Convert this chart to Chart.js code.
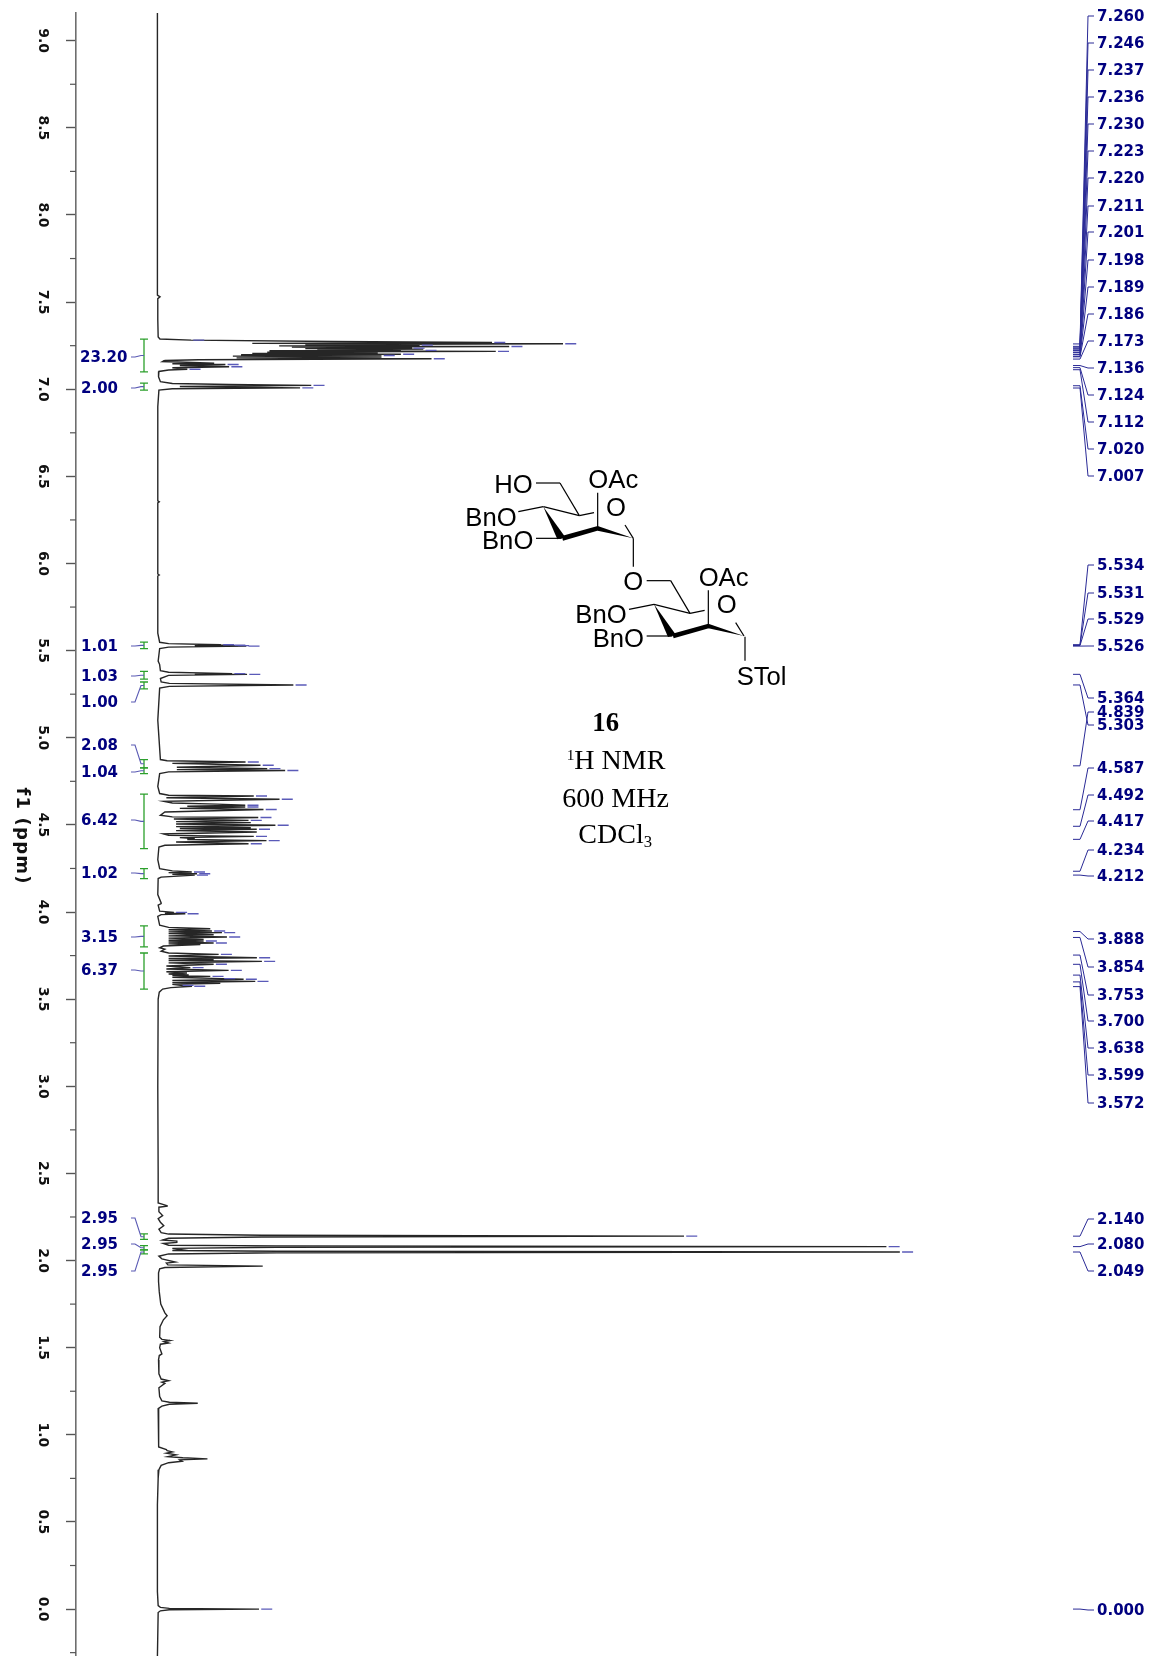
<!DOCTYPE html>
<html>
<head>
<meta charset="utf-8">
<title>1H NMR 16</title>
<script src="https://cdn.jsdelivr.net/npm/chart.js@4"></script>
<style>
  html, body { margin: 0; padding: 0; background: #fff; }
  #wrap { position: relative; width: 1155px; height: 1656px; overflow: hidden; }
  #nmr { position: absolute; left: 0; top: 0; filter: blur(0.35px); }
  #structure { position: absolute; left: 450px; top: 450px; }
  #structure text { font-family: "Liberation Sans", sans-serif; font-size: 77px; fill: #000; }
  #structure text.cap { font-family: "Liberation Serif", serif; font-size: 84px; }
  #structure line { stroke: #000; stroke-width: 3.6; }
</style>
</head>
<body>
<div id="wrap">
  <canvas id="nmr" width="1155" height="1669"></canvas>
  <svg id="structure" width="360" height="400" viewBox="0 0 1080 1200">
    <g id="ring1">
      <line x1="258" y1="99" x2="330" y2="99"/><line x1="330" y1="99" x2="388" y2="197"/>
      <line x1="205" y1="185" x2="280" y2="170"/><line x1="280" y1="170" x2="388" y2="197"/>
      <line x1="388" y1="197" x2="432" y2="188"/><line x1="443" y1="128" x2="443" y2="235"/>
      <line x1="525" y1="225" x2="550" y2="265"/><line x1="258" y1="265" x2="335" y2="265"/>
      <polygon points="280,170 322,268 346,262"/>
      <polygon points="335,258 443,228 447,241 339,272"/>
      <polygon points="443,228 550,265 443,242"/>
    </g>
    <line x1="550" y1="265" x2="550" y2="350"/>
    <use href="#ring1" x="332" y="293"/>
    <line x1="885" y1="560" x2="885" y2="632"/>
    <text x="133" y="128">HO</text>
    <text x="415" y="115">OAc</text>
    <text x="468" y="199">O</text>
    <text x="46" y="228">BnO</text>
    <text x="96" y="297">BnO</text>
    <text x="520" y="420">O</text>
    <text x="746" y="407">OAc</text>
    <text x="800" y="490">O</text>
    <text x="376" y="519">BnO</text>
    <text x="428" y="590">BnO</text>
    <text x="860" y="705">STol</text>
    <text class="cap" x="427" y="843" font-weight="bold" style="font-size:80px">16</text>
    <text class="cap" x="350" y="957"><tspan font-size="46" dy="-28">1</tspan><tspan dy="28">H NMR</tspan></text>
    <text class="cap" x="337" y="1070">600 MHz</text>
    <text class="cap" x="385" y="1180">CDCl<tspan font-size="50" dy="12">3</tspan></text>
  </svg>
</div>
<script>
// spectrum trace: ppm and relative intensity per region
const downfieldPpm = [9.16, 7.6, 7.54, 7.53, 7.52, 7.4, 7.3];
const downfieldInt = [0, 0, 0, 0.35, 0.05, 0.05, 0.1];

const aromaticPpm = [7.288, 7.282, 7.274, 7.268, 7.263, 7.261, 7.257, 7.253, 7.249, 7.245, 7.242, 7.238, 7.234, 7.230, 7.226, 7.223, 7.221, 7.217, 7.213, 7.209, 7.205, 7.201, 7.198, 7.194, 7.190, 7.184, 7.180, 7.175, 7.169, 7.165, 7.159, 7.150, 7.146, 7.142, 7.136, 7.129, 7.123, 7.115, 7.110, 7.102, 7.071, 7.043, 7.033, 7.027, 7.022, 7.016, 7.008, 7.003, 6.995];
const aromaticInt = [0.34, 4.5, 23.4, 44.8, 12.7, 54.3, 19.8, 35.1, 16.3, 47.1, 18, 34.1, 19.8, 35.6, 21.4, 32.6, 15, 45.3, 14.7, 29.5, 12.7, 32.6, 11.2, 30, 10.1, 30, 10.6, 36.7, 5.5, 1, 0.7, 7.6, 2, 9.1, 3, 9.6, 2, 4, 1.5, 0.2, 0.15, 0.4, 2, 9.6, 20.6, 3, 19.1, 2, 0.2];

const quietPpm = [6.9, 6.36, 6.354, 6.348, 5.94, 5.934, 5.928, 5.6];
const quietInt = [0.05, 0.05, 0.25, 0.05, 0.05, 0.25, 0.05, 0.05];

const anomericPpm = [5.548, 5.54, 5.534, 5.532, 5.531, 5.530, 5.529, 5.5275, 5.526, 5.52, 5.512, 5.44, 5.42, 5.385, 5.376, 5.368, 5.366, 5.364, 5.358, 5.34, 5.32, 5.312, 5.303, 5.295, 5.285, 5.1, 4.875, 4.868, 4.861, 4.853, 4.842, 4.831, 4.823, 4.817, 4.812, 4.804, 4.794, 4.72];
const anomericInt = [0.3, 1.5, 8.5, 5, 10, 5, 10.5, 5, 11.9, 1.5, 0.3, 0.1, 0.3, 0.4, 1.5, 10, 5, 12, 1.5, 0.4, 0.5, 1.6, 18.2, 1.6, 0.3, 0.05, 0.4, 1.3, 11.8, 2, 13.8, 2.6, 14.7, 2.6, 17.1, 1.5, 0.3, 0.05];

const benzylPpm = [4.68, 4.670, 4.666, 4.656, 4.647, 4.635, 4.626, 4.619, 4.613, 4.607, 4.603, 4.595, 4.588, 4.574, 4.555, 4.546, 4.542, 4.534, 4.526, 4.519, 4.513, 4.505, 4.498, 4.490, 4.484, 4.479, 4.475, 4.467, 4.459, 4.448, 4.440, 4.434, 4.427, 4.421, 4.416, 4.410, 4.402, 4.392, 4.383, 4.373, 4.3, 4.249, 4.236, 4.230, 4.226, 4.220, 4.216, 4.212, 4.200, 4.192];
const benzylInt = [0.3, 1.5, 12.9, 1.2, 16.35, 0.9, 2, 8, 11.76, 4, 11.76, 3, 14.2, 1, 0.4, 2, 13.5, 2.2, 12.2, 2.5, 12.5, 2.5, 15.8, 2.5, 12.5, 3, 13.3, 2.5, 13.3, 0.8, 1.5, 12.9, 3, 5, 4, 14.6, 2.5, 12.2, 1, 0.2, 0.05, 0.3, 2, 4.6, 1.5, 5.3, 2, 5, 0.5, 0.1];

const sugarPpm = [4.1, 4.052, 4.048, 4.04, 4.005, 3.998, 3.993, 3.990, 3.985, 3.975, 3.925, 3.912, 3.904, 3.898, 3.891, 3.886, 3.882, 3.876, 3.870, 3.863, 3.857, 3.85, 3.843, 3.838, 3.834, 3.828, 3.822, 3.817, 3.813, 3.805, 3.795, 3.787, 3.775, 3.765, 3.757, 3.748, 3.738, 3.733, 3.727, 3.722, 3.717, 3.708, 3.700, 3.690, 3.681, 3.673, 3.665, 3.657, 3.650, 3.644, 3.639, 3.635, 3.631, 3.625, 3.618, 3.614, 3.608, 3.602, 3.596, 3.591, 3.585, 3.579, 3.574, 3.566, 3.558, 3.54, 3.5];
const sugarInt = [0.05, 0.5, 0.5, 0.1, 0.3, 2.2, 1, 3.74, 0.5, 0.05, 0.3, 1.5, 7.08, 1.5, 7.3, 1.5, 8.64, 1.5, 7.53, 1.5, 9.31, 1.5, 6.19, 1.5, 6.19, 1.5, 7.53, 1.5, 5.75, 0.8, 0.3, 1, 0.5, 1.5, 8.2, 1.5, 13.32, 1.5, 7.53, 1.5, 13.99, 1.5, 7.53, 1.2, 4.41, 1.2, 9.53, 1.2, 3.96, 1.5, 4.19, 2, 7.08, 2, 8.64, 11.54, 2, 13.1, 2, 8.42, 2, 3.07, 4.63, 1.8, 0.7, 0.25, 0.1];

const acetylPpm = [3.0, 2.5, 2.33, 2.315, 2.312, 2.306, 2.28, 2.258, 2.24, 2.22, 2.2, 2.18, 2.16, 2.152, 2.145, 2.140, 2.135, 2.128, 2.118, 2.112, 2.108, 2.104, 2.098, 2.088, 2.084, 2.080, 2.076, 2.070, 2.062, 2.058, 2.053, 2.049, 2.045, 2.038, 2.025, 2.01, 1.991, 1.985, 1.975, 1.968, 1.960, 1.952, 1.93];
const acetylInt = [0.05, 0.1, 0.1, 1.3, 1.3, 0.2, 0.2, 0.7, 0.1, 0.4, 0.85, 0.2, 0.5, 1.5, 14, 70.5, 14, 1.5, 0.7, 2.6, 2.6, 2.6, 0.8, 1.5, 16, 97.6, 16, 2, 3.3, 2, 16, 99.4, 16, 1.5, 0.2, 0.6, 2.4, 1.2, 1.4, 14.1, 1, 0.3, 0.15];

const upfieldPpm = [1.88, 1.82, 1.75, 1.70, 1.683, 1.66, 1.62, 1.56, 1.548, 1.541, 1.535, 1.527, 1.52, 1.50, 1.464, 1.455, 1.43, 1.35, 1.32, 1.31, 1.302, 1.295, 1.27, 1.22, 1.195, 1.187, 1.181, 1.175, 1.165, 1.15, 1.1, 1.0, 0.93, 0.915, 0.909, 0.902, 0.895, 0.885, 0.875, 0.868, 0.862, 0.856, 0.848, 0.84, 0.825, 0.80, 0.75, 0.6, 0.1];
const upfieldInt = [0.15, 0.25, 0.45, 1, 1.3, 0.8, 0.35, 0.3, 0.6, 1.7, 0.9, 1.5, 0.4, 0.3, 0.6, 0.25, 0.15, 0.2, 0.5, 1.5, 0.6, 1, 0.2, 0.3, 0.6, 1.6, 5.4, 1.6, 0.6, 0.1, 0.2, 0.1, 0.2, 1.2, 1.3, 2, 1.2, 2.5, 1.4, 3.4, 6.7, 3, 3.3, 1.5, 0.5, 0.2, 0.1, 0, 0];

const tmsPpm = [0.02, 0.01, 0.004, 0.0, -0.004, -0.01, -0.02, -0.2727];
const tmsInt = [0.1, 0.4, 1.6, 13.6, 1.6, 0.4, 0.1, 0];

const tracePpm = [].concat(downfieldPpm, aromaticPpm, quietPpm, anomericPpm, benzylPpm, sugarPpm, acetylPpm, upfieldPpm, tmsPpm);
const traceInt = [].concat(downfieldInt, aromaticInt, quietInt, anomericInt, benzylInt, sugarInt, acetylInt, upfieldInt, tmsInt);

// peak-top dashes
const dashPpm = [7.282, 7.268, 7.261, 7.253, 7.245, 7.236, 7.223, 7.217, 7.201, 7.194, 7.175, 7.142, 7.129, 7.115, 7.022, 7.008, 5.534, 5.531, 5.529, 5.526, 5.368, 5.364, 5.303, 4.861, 4.842, 4.823, 4.812, 4.666, 4.647, 4.613, 4.603, 4.588, 4.542, 4.526, 4.498, 4.475, 4.434, 4.410, 4.392, 4.230, 4.220, 4.212, 3.998, 3.990, 3.891, 3.882, 3.857, 3.834, 3.822, 3.757, 3.738, 3.717, 3.700, 3.681, 3.665, 3.631, 3.618, 3.614, 3.602, 3.579, 3.574, 2.140, 2.080, 2.049, 0.0];
const dashInt = [4.5, 44.8, 54.3, 35.1, 47.1, 34, 35.6, 45.3, 32.6, 30, 36.7, 9.1, 9.6, 4, 20.6, 19.1, 8.5, 10, 10.5, 11.9, 10, 12, 18.2, 11.8, 13.8, 14.7, 17.1, 12.9, 16.35, 11.76, 11.76, 14.2, 13.5, 12.2, 15.8, 13.3, 12.9, 14.6, 12.2, 4.6, 5.3, 5, 2.2, 3.74, 7.3, 8.64, 9.31, 6.19, 7.53, 8.2, 13.32, 13.99, 7.53, 4.41, 9.53, 7.08, 8.64, 11.54, 13.1, 3.07, 4.63, 70.5, 97.6, 99.4, 13.6];

// peak labels down the right edge
const peakLabels = ['7.260', '7.246', '7.237', '7.236', '7.230', '7.223', '7.220', '7.211', '7.201', '7.198', '7.189', '7.186', '7.173', '7.136', '7.124', '7.112', '7.020', '7.007', '5.534', '5.531', '5.529', '5.526', '5.364', '4.839', '5.303', '4.587', '4.492', '4.417', '4.234', '4.212', '3.888', '3.854', '3.753', '3.700', '3.638', '3.599', '3.572', '2.140', '2.080', '2.049', '0.000'];

// integrals
const integralLabels = ['23.20', '2.00', '1.01', '1.03', '1.00', '2.08', '1.04', '6.42', '1.02', '3.15', '6.37', '2.95', '2.95', '2.95'];
const integralFrom = [7.288, 7.035, 5.549, 5.381, 5.32, 4.875, 4.827, 4.676, 4.249, 3.92, 3.765, 2.153, 2.086, 2.061];
const integralTo = [7.10, 6.995, 5.511, 5.336, 5.28, 4.827, 4.794, 4.364, 4.192, 3.80, 3.558, 2.121, 2.061, 2.038];

const majorStep = 0.5;
const minorTicks = [8.75, 8.25, 7.75, 7.25, 6.75, 6.25, 5.75, 5.25, 4.75, 4.25, 3.75, 3.25, 2.75, 2.25, 1.75, 1.25, 0.75, 0.25, -0.25];

// layout, in page pixels
const peakRowY = [16, 43, 70, 97, 124, 151, 178, 206, 232, 260, 287, 314, 341, 368, 395, 422, 449, 476, 565, 593, 619, 646, 698, 712, 725, 768, 795, 821, 850, 876, 939, 967, 995, 1021, 1048, 1075, 1103, 1219, 1244, 1271, 1610];
const integralRowY = [357, 388, 646, 676, 702, 745, 772, 820, 873, 937, 970, 1218, 1244, 1271];

const NAVY = '#00007f';
const LABEL_FONT = 'bold 15px "DejaVu Sans"';

function leader(ctx, x0, y0, x1, y1, x2, x3) {
  ctx.beginPath();
  ctx.moveTo(x0, y0);
  ctx.lineTo(x1, y0);
  ctx.lineTo(x2, y1);
  ctx.lineTo(x3, y1);
  ctx.stroke();
}

const annotations = {
  id: 'annotations',
  afterDatasetsDraw(chart) {
    const ctx = chart.ctx;
    const y = chart.scales.y;
    ctx.save();

    // minor ticks
    ctx.strokeStyle = '#555';
    ctx.lineWidth = 1.2;
    minorTicks.forEach(t => {
      const py = y.getPixelForValue(t);
      ctx.beginPath();
      ctx.moveTo(70, py);
      ctx.lineTo(76, py);
      ctx.stroke();
    });

    // axis title, reads top to bottom
    ctx.save();
    ctx.translate(22, 836);
    ctx.rotate(Math.PI / 2);
    ctx.font = 'bold 18px "DejaVu Sans"';
    ctx.letterSpacing = '1.2px';
    ctx.fillStyle = '#111';
    ctx.textAlign = 'center';
    ctx.textBaseline = 'middle';
    ctx.fillText('f1 (ppm)', 0, 0);
    ctx.restore();

    // integral brackets
    ctx.strokeStyle = '#2ca02c';
    ctx.lineWidth = 1.3;
    integralFrom.forEach((from, i) => {
      const a = y.getPixelForValue(from), b = y.getPixelForValue(integralTo[i]);
      ctx.beginPath();
      ctx.moveTo(144, a); ctx.lineTo(144, b);
      ctx.moveTo(140, a); ctx.lineTo(148, a);
      ctx.moveTo(140, b); ctx.lineTo(148, b);
      ctx.stroke();
    });

    // integral labels and their leaders
    ctx.strokeStyle = '#5a5ab4';
    ctx.lineWidth = 1.1;
    ctx.font = LABEL_FONT;
    ctx.fillStyle = NAVY;
    ctx.textAlign = 'left';
    ctx.textBaseline = 'middle';
    integralLabels.forEach((text, i) => {
      const mid = y.getPixelForValue((integralFrom[i] + integralTo[i]) / 2);
      leader(ctx, 144, mid, 141, integralRowY[i], 135, 131);
      ctx.fillText(text, i === 0 ? 80 : 81, integralRowY[i] + 1);
    });

    // peak labels and their leaders
    ctx.strokeStyle = '#2a2a96';
    ctx.lineWidth = 1;
    peakLabels.forEach((text, i) => {
      const py = y.getPixelForValue(parseFloat(text));
      leader(ctx, 1073, py, 1080, peakRowY[i], 1088, 1094);
      ctx.fillText(text, 1097, peakRowY[i] + 1);
    });
    ctx.restore();
  }
};

new Chart(document.getElementById('nmr'), {
  type: 'scatter',
  data: {
    datasets: [
      {
        label: 'peak tops',
        data: dashPpm.map((p, i) => ({ x: dashInt[i] + 0.3, y: p })),
        showLine: false,
        pointStyle: 'dash',
        pointRadius: 11,
        pointBorderColor: '#5a5ab8',
        pointBorderWidth: 1.4
      },
      {
        label: 'spectrum',
        data: tracePpm.map((p, i) => ({ x: traceInt[i], y: p })),
        showLine: true,
        borderColor: '#262626',
        borderWidth: 1.4,
        pointRadius: 0,
        tension: 0
      }
    ]
  },
  options: {
    responsive: false,
    animation: false,
    layout: { padding: { top: 13, left: 0, right: 0, bottom: 0 } },
    plugins: { legend: { display: false }, tooltip: { enabled: false } },
    scales: {
      x: { type: 'linear', display: false, min: -10.9, max: 131.9 },
      y: {
        type: 'linear',
        position: 'left',
        min: -0.2727,
        max: 9.159,
        afterFit(scale) {
          scale.width = 76;
          // rotated tick labels would otherwise pull the plot in at both ends
          scale.paddingTop = 0;
          scale.paddingBottom = 0;
        },
        border: { display: true, color: '#6e6e6e', width: 1.6 },
        grid: { drawOnChartArea: false, drawTicks: true, tickLength: 10, tickColor: '#555', tickWidth: 1.4 },
        ticks: {
          stepSize: majorStep,
          includeBounds: false,
          minRotation: -90,
          maxRotation: -90,
          crossAlign: 'center',
          padding: 11,
          color: '#111',
          font: { family: '"DejaVu Sans"', size: 14, weight: 'bold' },
          callback: v => v.toFixed(1)
        }
      }
    }
  },
  plugins: [annotations]
});
</script>
</body>
</html>
